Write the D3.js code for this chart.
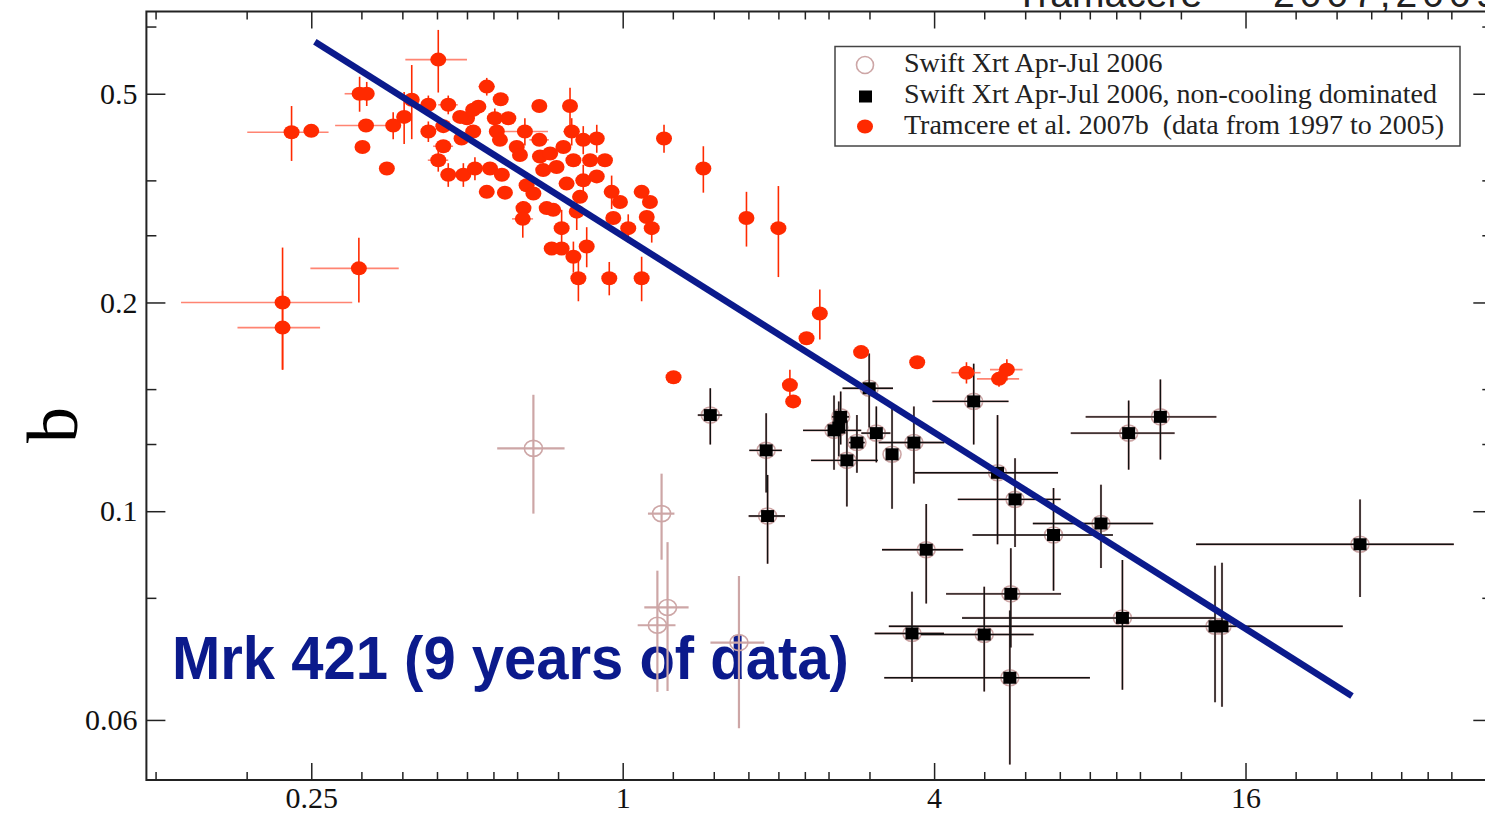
<!DOCTYPE html>
<html>
<head>
<meta charset="utf-8">
<script src="https://cdn.jsdelivr.net/npm/d3@7"></script>
<style>
  body { margin: 0; background: #fff; }
  svg { display: block; }
</style>
</head>
<body>
<div id="scatter"></div>
<script>

// chart values

var xTicks = [0.25, 1, 4, 16];
var xTickLabels = ["0.25", "1", "4", "16"];
var xMinor = [0.125, 0.1875, 0.3125, 0.375, 0.4375, 0.5, 0.5625, 0.625, 0.75,
  1.25, 1.5, 1.75, 2, 2.25, 2.5, 3, 5, 6, 7, 8, 9, 10, 12, 20, 24, 28, 32, 36, 40];

var yTicks = [0.5, 0.25, 0.125, 0.0625];
var yTickLabels = ["0.5", "0.2", "0.1", "0.06"];
var yMinor = [0.625, 0.375, 0.3125, 0.1875, 0.15625, 0.09375];

// rows: [x, b, x error, b error]
var tramacere = [
  [0.44, 0.56, 0.06, 0.058], [0.229, 0.44, 0.041, 0.04], [0.25, 0.442, 0, 0],
  [0.31, 0.50, 0.02, 0.029], [0.32, 0.50, 0, 0.02], [0.319, 0.45, 0.041, 0],
  [0.314, 0.419, 0, 0], [0.35, 0.39, 0, 0], [0.36, 0.45, 0, 0.02],
  [0.378, 0.463, 0, 0.04], [0.391, 0.49, 0, 0.06], [0.421, 0.482, 0.015, 0.015],
  [0.421, 0.441, 0, 0.015], [0.45, 0.42, 0.02, 0], [0.44, 0.401, 0.02, 0.015],
  [0.46, 0.382, 0, 0.015], [0.46, 0.482, 0.02, 0.015], [0.45, 0.449, 0, 0],
  [0.492, 0.382, 0, 0.015], [0.518, 0.39, 0, 0.015], [0.526, 0.479, 0, 0],
  [0.546, 0.512, 0.02, 0.015], [0.546, 0.361, 0, 0], [0.488, 0.431, 0, 0],
  [0.514, 0.441, 0, 0], [0.5, 0.461, 0, 0], [0.581, 0.491, 0, 0],
  [0.69, 0.48, 0, 0], [0.791, 0.48, 0, 0.03], [0.485, 0.463, 0, 0],
  [0.514, 0.474, 0, 0], [0.566, 0.461, 0, 0.015], [0.601, 0.461, 0.02, 0],
  [0.571, 0.441, 0, 0], [0.647, 0.441, 0.07, 0.02], [0.579, 0.429, 0, 0],
  [0.624, 0.419, 0, 0], [0.69, 0.429, 0.03, 0], [0.633, 0.408, 0, 0],
  [0.692, 0.406, 0, 0], [0.724, 0.41, 0, 0], [0.768, 0.419, 0, 0],
  [0.797, 0.441, 0.03, 0.02], [0.839, 0.429, 0, 0.02], [0.891, 0.431, 0, 0.02],
  [0.803, 0.401, 0, 0], [0.865, 0.401, 0, 0], [0.924, 0.401, 0, 0],
  [0.554, 0.39, 0, 0], [0.584, 0.382, 0, 0], [0.592, 0.36, 0, 0],
  [0.652, 0.369, 0, 0], [0.672, 0.359, 0, 0], [0.702, 0.388, 0, 0],
  [0.745, 0.392, 0, 0], [0.779, 0.371, 0, 0], [0.839, 0.375, 0, 0.02],
  [0.891, 0.38, 0, 0], [0.827, 0.355, 0, 0], [0.643, 0.342, 0, 0],
  [0.641, 0.33, 0.03, 0.02], [0.713, 0.342, 0, 0], [0.734, 0.34, 0, 0],
  [0.952, 0.361, 0, 0.02], [0.988, 0.349, 0, 0], [1.088, 0.361, 0, 0],
  [1.129, 0.349, 0, 0], [0.959, 0.331, 0, 0], [1.025, 0.32, 0, 0.015],
  [1.113, 0.332, 0, 0], [1.138, 0.32, 0, 0.015], [0.815, 0.338, 0, 0.02],
  [0.762, 0.32, 0, 0.02], [0.729, 0.299, 0, 0], [0.762, 0.299, 0, 0],
  [0.852, 0.301, 0, 0.02], [0.803, 0.291, 0, 0.015], [0.821, 0.271, 0, 0.02],
  [0.942, 0.271, 0, 0.015], [1.088, 0.271, 0, 0.02], [1.202, 0.431, 0, 0.02],
  [1.432, 0.39, 0, 0.03], [1.735, 0.331, 0, 0.03], [2.0, 0.32, 0, 0.048],
  [2.267, 0.222, 0, 0], [2.405, 0.241, 0, 0.02], [2.105, 0.19, 0.03, 0.01],
  [2.136, 0.18, 0, 0], [2.89, 0.212, 0, 0], [3.71, 0.205, 0, 0],
  [4.62, 0.198, 0.3, 0.007], [5.34, 0.194, 0.5, 0.005], [5.53, 0.2, 0.4, 0.007],
  [1.254, 0.195, 0, 0], [0.22, 0.23, 0.04, 0.03], [0.22, 0.25, 0.08, 0.05],
  [0.309, 0.28, 0.06, 0.03]
];

var swiftOpen = [
  [0.672, 0.154, 0.1, 0.03], [1.189, 0.124, 0.07, 0.0176],
  [1.221, 0.0908, 0.12, 0.022], [1.167, 0.0856, 0.098, 0.017],
  [1.678, 0.0808, 0.2, 0.02]
];

var swiftNonCooling = [
  [1.477, 0.172, 0.08, 0.016], [1.894, 0.153, 0.137, 0.02], [1.906, 0.123, 0.154, 0.018],
  [2.639, 0.171, 0.1, 0.015], [2.617, 0.165, 0, 0.015], [2.562, 0.1635, 0.33, 0.02],
  [2.713, 0.148, 0.4, 0.021], [2.837, 0.157, 0.1, 0.015], [2.996, 0.188, 0.335, 0.023],
  [3.093, 0.162, 0.2, 0.015], [3.317, 0.151, 0, 0.025], [3.656, 0.157, 0.53, 0.02],
  [4.771, 0.18, 0.8, 0.024], [5.305, 0.142, 1.64, 0.03], [5.735, 0.13, 1.29, 0.019],
  [6.807, 0.1155, 2.06, 0.0195], [8.408, 0.12, 2.2, 0.0165], [9.51, 0.162, 2.16, 0.0185],
  [10.954, 0.171, 3.1, 0.0226], [26.64, 0.112, 13.8, 0.018], [3.862, 0.11, 0.69, 0.018],
  [5.629, 0.095, 1.41, 0.0155], [3.625, 0.0833, 0.555, 0.0124], [5.0, 0.083, 1.23, 0.0143],
  [5.604, 0.0719, 2.4, 0.018], [9.25, 0.0877, 4.72, 0.0186], [13.97, 0.0853, 10.7, 0.019],
  [14.41, 0.0853, 0, 0.02]
];

var fitLine = [[0.254, 0.594], [25.7, 0.0677]];

var legendLabels = [
  "Swift Xrt Apr-Jul 2006",
  "Swift Xrt Apr-Jul 2006, non-cooling dominated",
  "Tramcere et al. 2007b  (data from 1997 to 2005)"
];

// initial settings

var svgWidth = 1485;
var svgHeight = 815;

var margin = { top: 11.5, left: 146.4 };
var width = 1345.9;
var height = 768.5;

var serif = "'Liberation Serif', 'DejaVu Serif', serif";
var sans = "'Liberation Sans', Arial, sans-serif";

var red = "#ff2a00";
var navy = "#0b1a8c";
var pink = "#cda6a6";

// create svg element

var svg = d3.select("#scatter")
  .append("svg")
  .attr("width", svgWidth)
  .attr("height", svgHeight);

var chart = svg.append("g")
  .attr("transform", `translate(${margin.left}, ${margin.top})`);

// scales (log base 2 on both axes)

var xline = d3.scaleLog().base(2).domain([0.12, 48]).range([0, width]);
var yline = d3.scaleLog().base(2).domain([0.0512, 0.657]).range([height, 0]);

// axes, ticks pointing inwards

function styleAxis(g) {
  g.select(".domain").remove();
  g.selectAll("line").attr("stroke", "#222").attr("stroke-width", 1.5);
  g.attr("font-family", serif).attr("font-size", 30);
  g.selectAll("text").attr("fill", "#111");
}

chart.append("g")
  .attr("transform", `translate(0, ${height})`)
  .call(d3.axisBottom(xline).tickValues(xTicks)
    .tickFormat((d, i) => xTickLabels[i]).tickSize(-17).tickPadding(7))
  .call(styleAxis);

chart.append("g")
  .attr("transform", `translate(0, ${height})`)
  .call(d3.axisBottom(xline).tickValues(xMinor).tickFormat("").tickSize(-8))
  .call(styleAxis);

chart.append("g")
  .call(d3.axisTop(xline).tickValues(xTicks).tickFormat("").tickSize(-17))
  .call(styleAxis);

chart.append("g")
  .call(d3.axisTop(xline).tickValues(xMinor).tickFormat("").tickSize(-8))
  .call(styleAxis);

chart.append("g")
  .call(d3.axisLeft(yline).tickValues(yTicks)
    .tickFormat((d, i) => yTickLabels[i]).tickSize(-19).tickPadding(9))
  .call(styleAxis);

chart.append("g")
  .call(d3.axisLeft(yline).tickValues(yMinor).tickFormat("").tickSize(-10))
  .call(styleAxis);

chart.append("g")
  .attr("transform", `translate(${width}, 0)`)
  .call(d3.axisRight(yline).tickValues(yTicks).tickFormat("").tickSize(-19))
  .call(styleAxis);

chart.append("g")
  .attr("transform", `translate(${width}, 0)`)
  .call(d3.axisRight(yline).tickValues(yMinor).tickFormat("").tickSize(-10))
  .call(styleAxis);

// frame

chart.append("rect")
  .attr("width", width)
  .attr("height", height)
  .attr("fill", "none")
  .attr("stroke", "#222")
  .attr("stroke-width", 2);

// axis label

svg.append("text")
  .attr("transform", "translate(77, 425) rotate(-90)")
  .attr("text-anchor", "middle")
  .attr("font-family", serif)
  .attr("font-size", 72)
  .attr("fill", "#000")
  .text("b");

// title (cut at the top edge, as in the original)

svg.append("text")
  .attr("x", 1015).attr("y", 7)
  .attr("font-family", sans).attr("font-size", 39).attr("fill", "#222")
  .text("Tramacere");

svg.append("text")
  .attr("x", 1273).attr("y", 7)
  .attr("font-family", sans).attr("font-size", 39).attr("fill", "#222")
  .attr("letter-spacing", 5)
  .text("2007,2009");

// annotation

chart.append("text")
  .attr("transform", `translate(${172 - margin.left}, ${679 - margin.top}) scale(1, 1.06)`)
  .attr("font-family", sans)
  .attr("font-weight", "bold")
  .attr("font-size", 58)
  .attr("fill", navy)
  .text("Mrk 421 (9 years of data)");

// error bars

function errorBars(rows, vColor, hColor, w) {
  var g = chart.append("g");
  g.selectAll(null)
    .data(rows.filter(d => d[2] > 0))
    .enter()
    .append("line")
    .attr("x1", d => xline(d[0] - d[2]))
    .attr("x2", d => xline(d[0] + d[2]))
    .attr("y1", d => yline(d[1]))
    .attr("y2", d => yline(d[1]))
    .attr("stroke", hColor)
    .attr("stroke-width", w);
  g.selectAll(null)
    .data(rows.filter(d => d[3] > 0))
    .enter()
    .append("line")
    .attr("x1", d => xline(d[0]))
    .attr("x2", d => xline(d[0]))
    .attr("y1", d => yline(d[1] - d[3]))
    .attr("y2", d => yline(d[1] + d[3]))
    .attr("stroke", vColor)
    .attr("stroke-width", w);
}

var swiftAll = swiftOpen.concat(swiftNonCooling);

// swift, all points: open circles
errorBars(swiftAll, pink, pink, 2.2);

chart.selectAll(".swiftCircle")
  .data(swiftAll)
  .enter()
  .append("ellipse")
  .attr("class", "swiftCircle")
  .attr("cx", d => xline(d[0]))
  .attr("cy", d => yline(d[1]))
  .attr("rx", 9)
  .attr("ry", 8)
  .attr("fill", "none")
  .attr("stroke", pink)
  .attr("stroke-width", 1.6);

// swift, non-cooling dominated: black squares
errorBars(swiftNonCooling, "#111", "#111", 1.4);

chart.selectAll(".swiftSquare")
  .data(swiftNonCooling)
  .enter()
  .append("rect")
  .attr("class", "swiftSquare")
  .attr("x", d => xline(d[0]) - 6.5)
  .attr("y", d => yline(d[1]) - 6)
  .attr("width", 13)
  .attr("height", 12)
  .attr("fill", "#000");

// tramacere et al.: red dots
errorBars(tramacere, red, "#ff8472", 1.6);

chart.selectAll(".redDot")
  .data(tramacere)
  .enter()
  .append("ellipse")
  .attr("class", "redDot")
  .attr("cx", d => xline(d[0]))
  .attr("cy", d => yline(d[1]))
  .attr("rx", 8)
  .attr("ry", 7)
  .attr("fill", red);

// fitted trend

chart.append("path")
  .datum(fitLine)
  .attr("d", d3.line().x(d => xline(d[0])).y(d => yline(d[1])))
  .attr("stroke", navy)
  .attr("stroke-width", 6.5)
  .attr("fill", "none");

// legend

var legend = svg.append("g");

legend.append("rect")
  .attr("x", 835).attr("y", 46.5)
  .attr("width", 625).attr("height", 99.5)
  .attr("fill", "#fff")
  .attr("stroke", "#444")
  .attr("stroke-width", 1.5);

legend.append("circle")
  .attr("cx", 865).attr("cy", 65).attr("r", 8.5)
  .attr("fill", "none").attr("stroke", pink).attr("stroke-width", 1.6);

legend.append("rect")
  .attr("x", 859).attr("y", 90.5).attr("width", 13).attr("height", 12)
  .attr("fill", "#000");

legend.append("ellipse")
  .attr("cx", 865).attr("cy", 126.5).attr("rx", 8).attr("ry", 7)
  .attr("fill", red);

legend.selectAll("text")
  .data(legendLabels)
  .enter()
  .append("text")
  .attr("x", 904)
  .attr("y", (d, i) => 71.5 + i * 31)
  .attr("font-family", serif)
  .attr("font-size", 28)
  .attr("fill", "#222")
  .style("white-space", "pre")
  .text(d => d);

</script>
</body>
</html>
